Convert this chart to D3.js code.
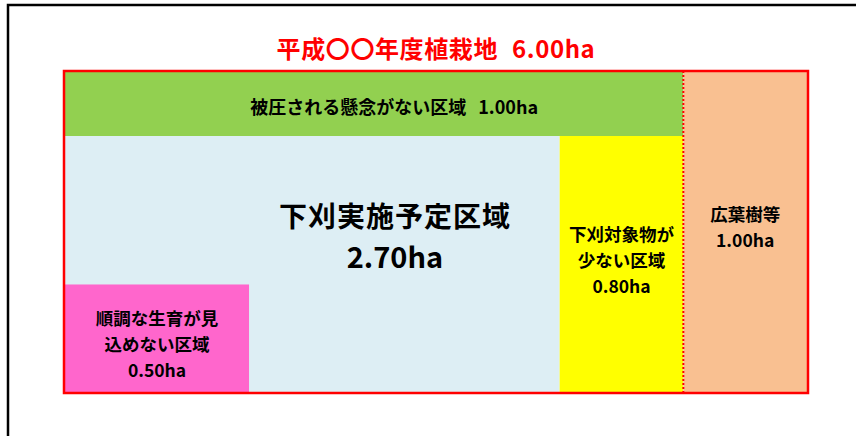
<!DOCTYPE html>
<html><head><meta charset="utf-8">
<script src="https://cdn.jsdelivr.net/npm/d3@7"></script>
<style>
html,body{margin:0;padding:0;background:#fff;}
svg{display:block;}
text{font-family:"Noto Sans CJK JP","Noto Sans",sans-serif;font-weight:700;}
</style></head>
<body>
<svg id="chart" width="856" height="436"></svg>
<script>
// ---- data ----
const titleText = "平成〇〇年度植栽地";
const totalArea = 6.00;
const categories = ["被圧される懸念がない区域", "下刈実施予定区域", "順調な生育が見込めない区域", "下刈対象物が少ない区域", "広葉樹等"];
const areas = [1.00, 2.70, 0.50, 0.80, 1.00];
const labelLines = [
  ["被圧される懸念がない区域"],
  ["下刈実施予定区域"],
  ["順調な生育が見", "込めない区域"],
  ["下刈対象物が", "少ない区域"],
  ["広葉樹等"]
];
const colors = ["#92D050", "#DDEEF4", "#FF66CC", "#FFFF00", "#F9C091"];

const fmt = d3.format(".2f");
const svg = d3.select("#chart");

// outer black frame
svg.append("rect").attr("x", 8).attr("y", 5).attr("width", 900).attr("height", 500)
  .attr("fill", "none").attr("stroke", "#000").attr("stroke-width", 2.5);

const box = {x0: 65, y0: 72, x1: 807, y1: 392};
const W = box.x1 - box.x0, H = box.y1 - box.y0;

// hierarchy: [ [green, [blue+pink, yellow]], peach ]
const rootData = {children: [
  {children: [
    {key: 0, value: areas[0]},
    {children: [
      {key: 1, value: areas[1] + areas[2]},
      {key: 3, value: areas[3]}
    ]}
  ]},
  {key: 4, value: areas[4]}
]};
const root = d3.hierarchy(rootData).sum(d => d.value || 0);
d3.treemap().size([W, H]).tile(d3.treemapSliceDice)(root);

const g = svg.append("g").attr("transform", `translate(${box.x0},${box.y0})`);
const leaves = root.leaves();
const cell = {};
leaves.forEach(l => { cell[l.data.key] = l; });

g.selectAll("rect.cell").data(leaves).join("rect").attr("class", "cell")
  .attr("x", d => d.x0).attr("y", d => d.y0)
  .attr("width", d => d.x1 - d.x0).attr("height", d => d.y1 - d.y0)
  .attr("fill", d => colors[d.data.key]);

// pink overlay inside blue group (bottom-left)
const bg = cell[1];
const bw = bg.x1 - bg.x0, bh = bg.y1 - bg.y0;
const pinkShare = areas[2] / (areas[1] + areas[2]);
const pinkH = 0.42 * bh;
const pinkW = pinkShare * bw * bh / pinkH;
const pink = {x0: bg.x0, x1: bg.x0 + pinkW, y0: bg.y1 - pinkH, y1: bg.y1};
g.append("rect").attr("x", pink.x0).attr("y", pink.y0)
  .attr("width", pinkW).attr("height", pinkH).attr("fill", colors[2]);

// dotted divider before peach column
const peach = cell[4];
g.append("line").attr("x1", peach.x0).attr("x2", peach.x0).attr("y1", -1).attr("y2", H + 1)
  .attr("stroke", "#FF0000").attr("stroke-width", 2).attr("stroke-dasharray", "2 2");

// red border
svg.append("rect").attr("x", box.x0 - 1).attr("y", box.y0 - 1)
  .attr("width", W + 2).attr("height", H + 2)
  .attr("fill", "none").attr("stroke", "#FF0000").attr("stroke-width", 2.5);

// title
const title = svg.append("text").attr("x", box.x0 - 1 + (W + 2) / 2).attr("y", 47)
  .attr("text-anchor", "middle").attr("dominant-baseline", "central")
  .attr("fill", "#FF0000").attr("font-size", 24).attr("letter-spacing", 0.6);
title.append("tspan").text(titleText);
title.append("tspan").attr("dx", 14).text(fmt(totalArea) + "ha");

function lines(x, ys, texts, size, extra) {
  ys.forEach((y, i) => {
    const t = g.append("text").attr("x", x).attr("y", y)
      .attr("text-anchor", "middle").attr("dominant-baseline", "central")
      .attr("fill", "#000").attr("font-size", size);
    if (extra) t.attr("letter-spacing", extra);
    t.text(texts[i]);
  });
}

// green label (single line)
{
  const c = cell[0];
  const t = g.append("text").attr("x", (c.x0 + c.x1) / 2 + 20).attr("y", (c.y0 + c.y1) / 2 + 2)
    .attr("text-anchor", "middle").attr("dominant-baseline", "central")
    .attr("fill", "#000").attr("font-size", 18);
  t.append("tspan").text(labelLines[0][0]);
  t.append("tspan").attr("dx", 12).text(fmt(areas[0]) + "ha");
}
// blue label
lines(bg.x0 + 0.667 * bw, [bg.y0 + 0.31 * bh], labelLines[1], 28, 1);
lines(bg.x0 + 0.667 * bw, [bg.y0 + 0.465 * bh], [fmt(areas[1]) + "ha"], 29);
// pink label
{
  const cx = (pink.x0 + pink.x1) / 2, cy = (pink.y0 + pink.y1) / 2;
  lines(cx, [cy - 21, cy + 5, cy + 31], [...labelLines[2], fmt(areas[2]) + "ha"], 17.5);
}
// yellow label
{
  const c = cell[3];
  const cx = (c.x0 + c.x1) / 2, cy = (c.y0 + c.y1) / 2;
  lines(cx, [cy - 31, cy - 5, cy + 21], [...labelLines[3], fmt(areas[3]) + "ha"], 17.5);
}
// peach label
{
  const c = cell[4];
  const cx = (c.x0 + c.x1) / 2, cy = (c.y0 + c.y1) / 2;
  lines(cx, [cy - 19, cy + 7], [...labelLines[4], fmt(areas[4]) + "ha"], 17.5);
}
</script>
</body></html>
